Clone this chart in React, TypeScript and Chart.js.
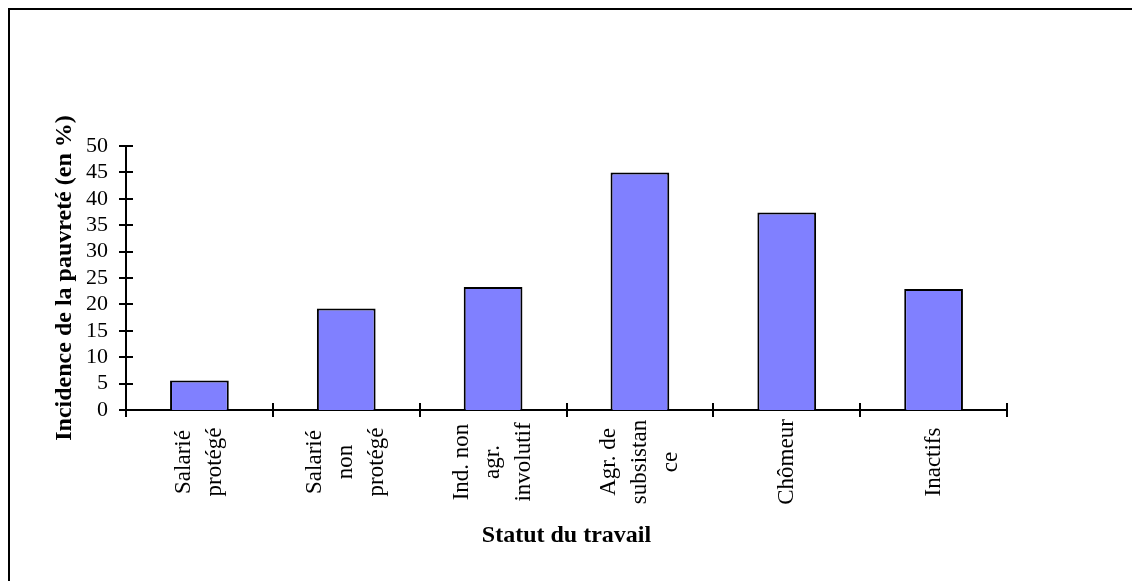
import React, { useEffect, useRef } from "react";
import { Chart, registerables } from "chart.js";

Chart.register(...registerables);

const categories: string[][] = [
  ["Salarié", "protégé"],
  ["Salarié", "non", "protégé"],
  ["Ind. non", "agr.", "involutif"],
  ["Agr. de", "subsistan", "ce"],
  ["Chômeur"],
  ["Inactifs"],
];
const values: number[] = [5.6, 19.2, 23.3, 45.0, 37.4, 22.9];
const yTickValues: number[] = [0, 5, 10, 15, 20, 25, 30, 35, 40, 45, 50];
const yTitle = "Incidence de la pauvreté (en %)";
const xTitle = "Statut du travail";

const SERIF = "'Liberation Serif', 'Times New Roman', serif";

const crossTicksAndLabels = {
  id: "crossTicksAndLabels",
  afterDraw(chart: any) {
    const { ctx } = chart;
    const xs = chart.scales.x;
    const ys = chart.scales.y;
    ctx.save();
    ctx.strokeStyle = "#000";
    ctx.lineWidth = 2;
    ctx.beginPath();
    const ax = ys.right;
    yTickValues.forEach((v) => {
      const y = Math.round(ys.getPixelForValue(v));
      ctx.moveTo(ax - 7, y);
      ctx.lineTo(ax + 7, y);
    });
    const ay = xs.top;
    for (let i = 0; i <= categories.length; i++) {
      const x = Math.round(xs.getPixelForValue(i - 0.5));
      ctx.moveTo(x, ay - 7);
      ctx.lineTo(x, ay + 7);
    }
    ctx.stroke();

    ctx.fillStyle = "#000";
    ctx.font = `23px ${SERIF}`;
    ctx.textAlign = "center";
    ctx.textBaseline = "middle";
    const lineH = 31;
    const centerY = ay + 52;
    categories.forEach((lines, i) => {
      const x = xs.getPixelForValue(i);
      ctx.save();
      ctx.translate(x, centerY);
      ctx.rotate(-Math.PI / 2);
      lines.forEach((ln, j) => {
        const off = (j - (lines.length - 1) / 2) * lineH;
        ctx.fillText(ln, 0, off);
      });
      ctx.restore();
    });
    ctx.restore();
  },
};

export default function App() {
  const ref = useRef<HTMLCanvasElement | null>(null);

  useEffect(() => {
    if (!ref.current) return;
    const chart = new Chart(ref.current, {
      type: "bar",
      data: {
        labels: categories.map((c) => c.join(" ")),
        datasets: [
          {
            data: values,
            backgroundColor: "#8080FF",
            borderColor: "#000000",
            borderWidth: 2,
            barPercentage: 0.4,
            categoryPercentage: 1,
          },
        ],
      },
      options: {
        animation: false,
        responsive: true,
        maintainAspectRatio: false,
        devicePixelRatio: 1,
        layout: { padding: { top: 136, right: 125, left: 0, bottom: 0 } },
        plugins: {
          legend: { display: false },
          tooltip: { enabled: false },
        },
        scales: {
          x: {
            grid: { display: false, drawTicks: false },
            border: { display: true, color: "#000", width: 2 },
            ticks: { display: false },
            title: {
              display: true,
              text: xTitle,
              color: "#000",
              font: { family: SERIF, size: 24, weight: "bold" },
              padding: { top: 0, bottom: 31 },
            },
            afterFit: (s: any) => {
              s.height = 171;
            },
          },
          y: {
            min: 0,
            max: 50,
            grid: { display: false, drawTicks: false },
            border: { display: true, color: "#000", width: 2 },
            ticks: {
              stepSize: 5,
              autoSkip: false,
              color: "#000",
              padding: 18,
              font: { family: SERIF, size: 22 },
            },
            title: {
              display: true,
              text: yTitle,
              color: "#000",
              font: { family: SERIF, size: 24, weight: "bold" },
              padding: { top: 40, bottom: 0 },
            },
            afterFit: (s: any) => {
              s.width = 116;
            },
          },
        },
      },
      plugins: [crossTicksAndLabels],
    });
    return () => chart.destroy();
  }, []);

  return (
    <div
      style={{
        borderTop: "2px solid #000",
        borderLeft: "2px solid #000",
        borderRight: "2px solid #000",
        width: 1122,
        height: 580,
        background: "#fff",
      }}
    >
      <div style={{ position: "relative", width: 1122, height: 571 }}>
        <canvas ref={ref} />
      </div>
    </div>
  );
}
